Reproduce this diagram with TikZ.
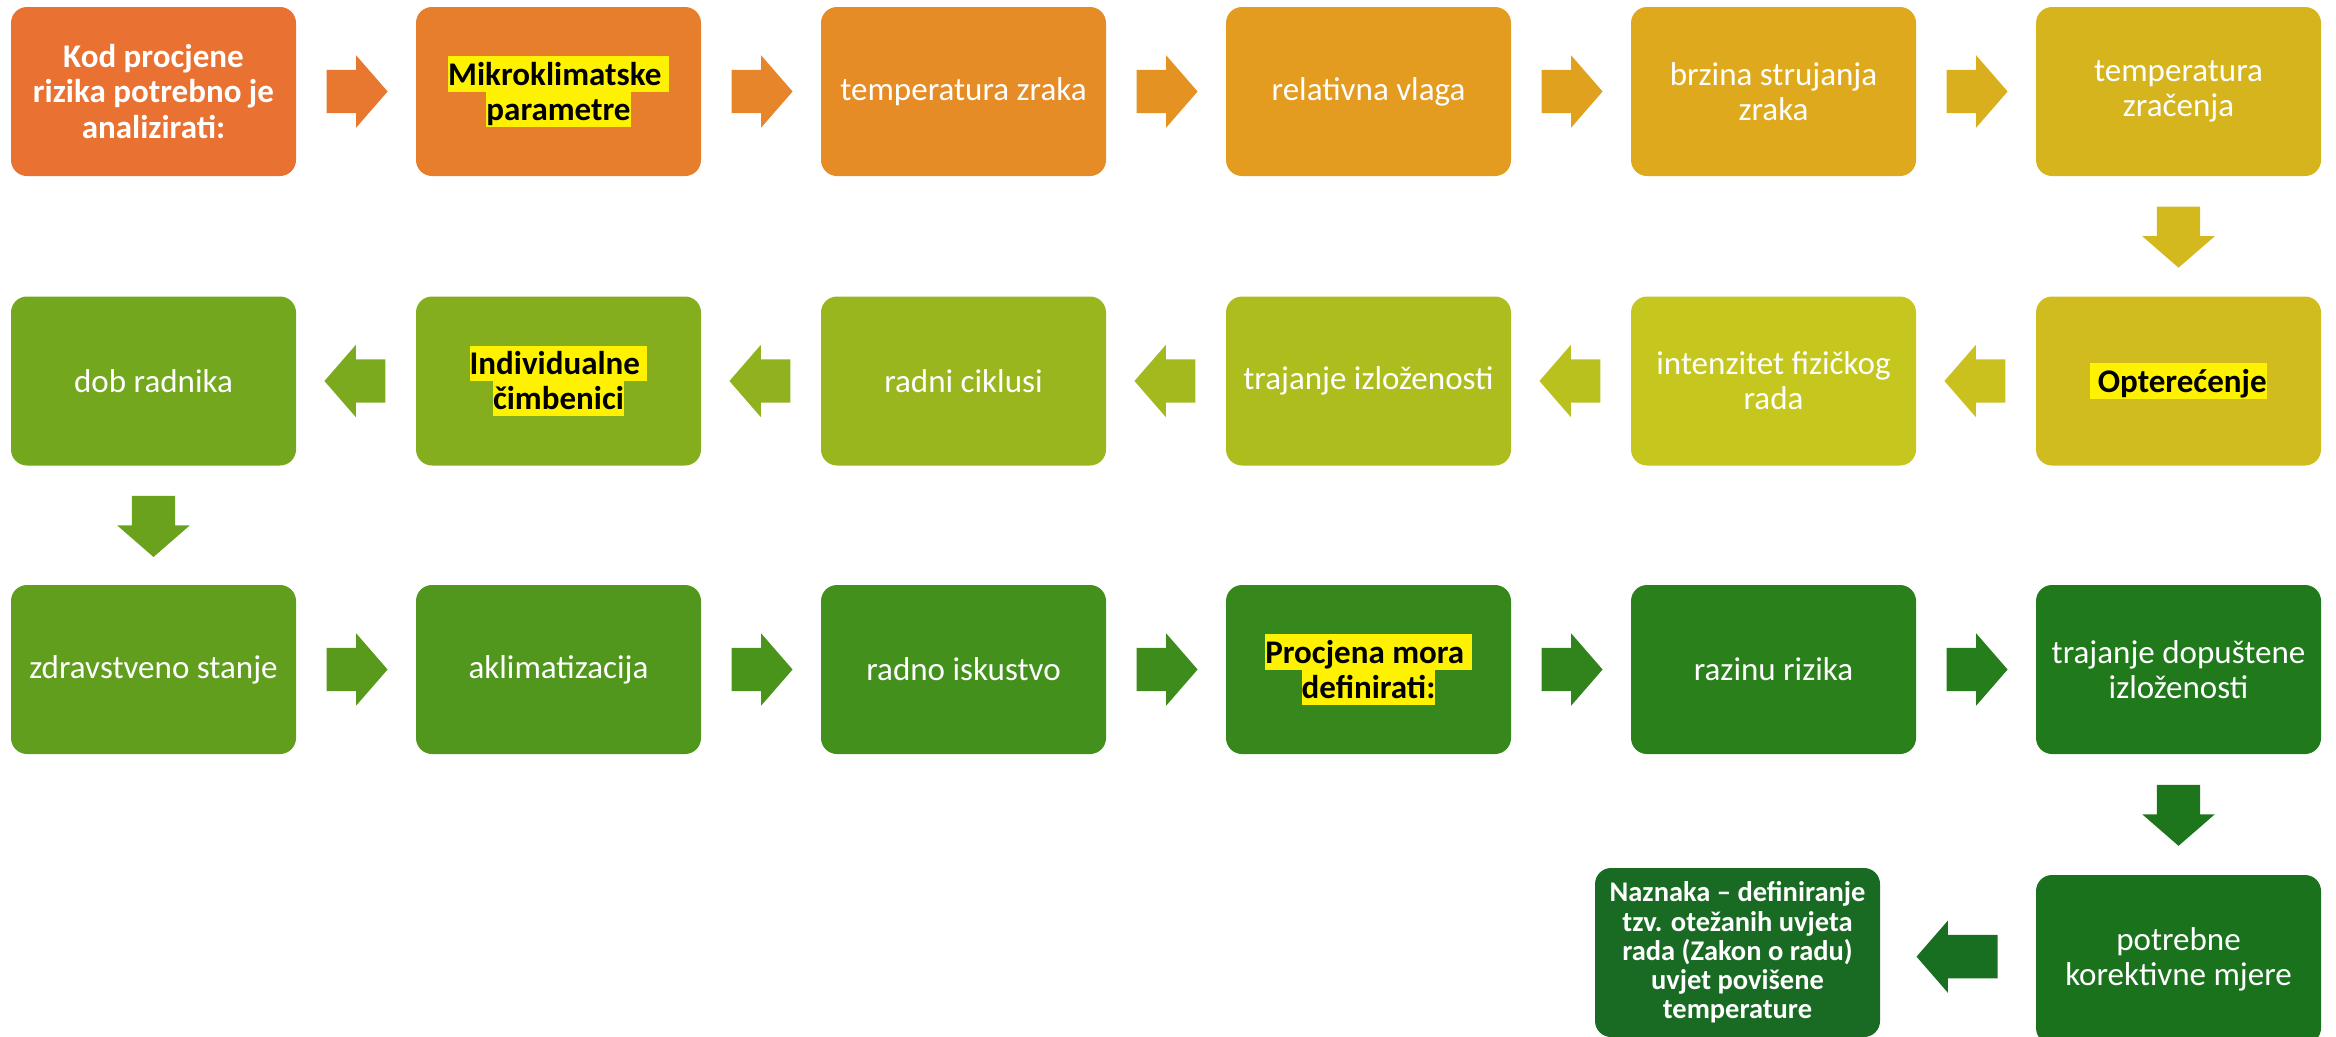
\documentclass[tikz,border=0pt]{standalone}
\usepackage{fontspec}
\setmainfont{Carlito}
\usepackage{xcolor}
\usepackage{tikz}
\usetikzlibrary{shapes.arrows}

\definecolor{c1}{HTML}{E97132}
\definecolor{c2}{HTML}{E77E2C}
\definecolor{c3}{HTML}{E58C26}
\definecolor{c4}{HTML}{E39B20}
\definecolor{c5}{HTML}{DEA91D}
\definecolor{c6}{HTML}{D6B41E}
\definecolor{c7}{HTML}{D0BC1E}
\definecolor{c8}{HTML}{C5C61E}
\definecolor{c9}{HTML}{AEBD1E}
\definecolor{c10}{HTML}{99B61E}
\definecolor{c11}{HTML}{85AE1E}
\definecolor{c12}{HTML}{72A71E}
\definecolor{c13}{HTML}{619E1D}
\definecolor{c14}{HTML}{51971D}
\definecolor{c15}{HTML}{43901C}
\definecolor{c16}{HTML}{36881C}
\definecolor{c17}{HTML}{2A811B}
\definecolor{c18}{HTML}{20791B}
\definecolor{c19}{HTML}{1A721D}
\definecolor{c20}{HTML}{196B24}

\newcommand{\hl}[1]{{\setlength{\fboxsep}{0pt}\colorbox{yellow}{\vrule width 0pt height 8.2pt depth 1.8pt #1}}}

\tikzset{
	box/.style={rectangle, rounded corners=0.16cm, minimum width=2.85cm, minimum height=1.69cm,
		inner sep=0pt, align=center, text=white, font=\fontsize{9.4}{10}\selectfont},
	mark box/.style={box, text=black, font=\fontsize{9.4}{10}\selectfont\bfseries},
	rarr/.style={single arrow, draw=none, inner xsep=0pt, inner ysep=0.21cm, single arrow head extend=0.145cm,
		single arrow tip angle=98, minimum width=0.71cm, minimum height=0.61cm, anchor=tail, pos=0.246},
	larr/.style={rarr, rotate=180},
	darr/.style={rarr, rotate=270},
}

\begin{document}
\begin{tikzpicture}
	\useasboundingbox (0,0) rectangle (23.36,-10.36);
	%
	%  BOXES ROW 1
	%
	\node[box, fill=c1, font=\fontsize{9.4}{10}\selectfont\bfseries] (1) at (1.535,-0.915) {Kod procjene\\rizika potrebno je\\analizirati:};
	\node[mark box, fill=c2] (2) at (5.585,-0.915) {\hl{Mikroklimatske\ }\\\hl{parametre}};
	\node[box, fill=c3] (3) at (9.635,-0.915) {temperatura zraka};
	\node[box, fill=c4] (4) at (13.685,-0.915) {relativna vlaga};
	\node[box, fill=c5] (5) at (17.735,-0.915) {brzina strujanja\\zraka};
	\node[box, fill=c6] (6) at (21.785,-0.915) {temperatura\\zračenja};
	%
	%  BOXES ROW 2
	%
	\node[mark box, fill=c7] (7) at (21.785,-3.81) {\hl{\ Opterećenje}};
	\node[box, fill=c8] (8) at (17.735,-3.81) {intenzitet fizičkog\\rada};
	\node[box, fill=c9] (9) at (13.685,-3.81) {trajanje izloženosti};
	\node[box, fill=c10] (10) at (9.635,-3.81) {radni ciklusi};
	\node[mark box, fill=c11] (11) at (5.585,-3.81) {\hl{Individualne\ }\\\hl{čimbenici}};
	\node[box, fill=c12] (12) at (1.535,-3.81) {dob radnika};
	%
	%  BOXES ROW 3
	%
	\node[box, fill=c13] (13) at (1.535,-6.695) {zdravstveno stanje};
	\node[box, fill=c14] (14) at (5.585,-6.695) {aklimatizacija};
	\node[box, fill=c15] (15) at (9.635,-6.695) {radno iskustvo};
	\node[mark box, fill=c16] (16) at (13.685,-6.695) {\hl{Procjena mora\ }\\\hl{definirati:}};
	\node[box, fill=c17] (17) at (17.735,-6.695) {razinu rizika};
	\node[box, fill=c18] (18) at (21.785,-6.695) {trajanje dopuštene\\izloženosti};
	%
	%  BOXES ROW 4
	%
	\node[box, fill=c19] (19) at (21.785,-9.595) {potrebne\\korektivne mjere};
	\node[box, fill=c20, font=\fontsize{8.1}{8.3}\selectfont\bfseries] (20) at (17.375,-9.525) {Naznaka -- definiranje\\tzv. otežanih uvjeta\\rada (Zakon o radu)\\uvjet povišene\\temperature};
	%
	%  ARROWS
	%
	\path
	(1) -- node[rarr, fill=c1!50!c2]{} (2)
	(2) -- node[rarr, fill=c2!50!c3]{} (3)
	(3) -- node[rarr, fill=c3!50!c4]{} (4)
	(4) -- node[rarr, fill=c4!50!c5]{} (5)
	(5) -- node[rarr, fill=c5!50!c6]{} (6)
	(6) -- node[darr, fill=c6!50!c7]{} (7)
	(7) -- node[larr, fill=c7!50!c8]{} (8)
	(8) -- node[larr, fill=c8!50!c9]{} (9)
	(9) -- node[larr, fill=c9!50!c10]{} (10)
	(10) -- node[larr, fill=c10!50!c11]{} (11)
	(11) -- node[larr, fill=c11!50!c12]{} (12)
	(12) -- node[darr, fill=c12!50!c13]{} (13)
	(13) -- node[rarr, fill=c13!50!c14]{} (14)
	(14) -- node[rarr, fill=c14!50!c15]{} (15)
	(15) -- node[rarr, fill=c15!50!c16]{} (16)
	(16) -- node[rarr, fill=c16!50!c17]{} (17)
	(17) -- node[rarr, fill=c17!50!c18]{} (18)
	(18) -- node[darr, fill=c18!50!c19]{} (19)
	(19) -- node[larr, fill=c19!50!c20, minimum height=0.81cm, pos=0.24]{} (20);
\end{tikzpicture}
\end{document}
